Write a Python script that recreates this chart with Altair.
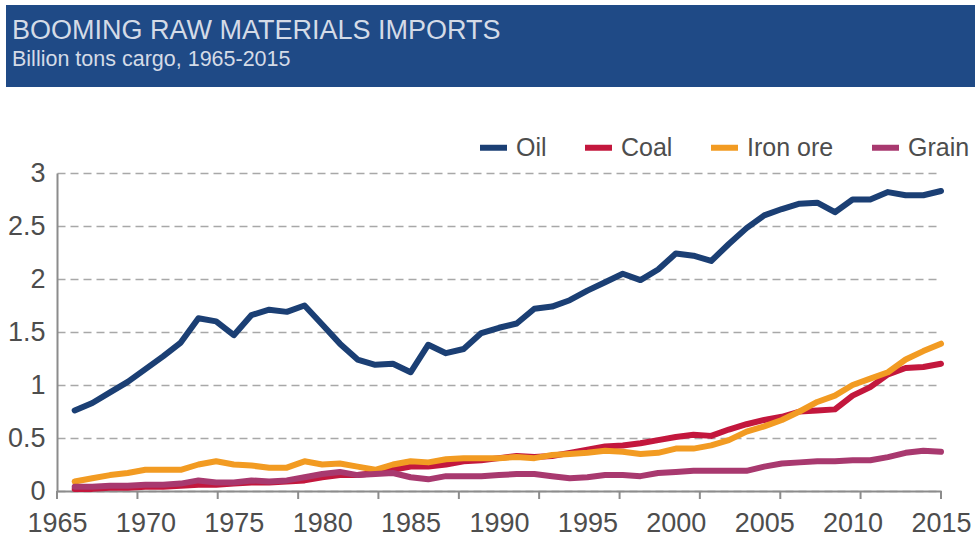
import altair as alt
import pandas as pd

# ---------------- data ----------------
years = list(range(1966, 2016))

oil = [0.76, 0.83, 0.93, 1.03, 1.15, 1.27, 1.40, 1.63, 1.60, 1.47,
       1.66, 1.71, 1.69, 1.75, 1.57, 1.39, 1.24, 1.19, 1.20, 1.12,
       1.38, 1.30, 1.34, 1.49, 1.54, 1.58, 1.72, 1.74, 1.80, 1.89,
       1.97, 2.05, 1.99, 2.09, 2.24, 2.22, 2.17, 2.33, 2.48, 2.60,
       2.66, 2.71, 2.72, 2.63, 2.75, 2.75, 2.82, 2.79, 2.79, 2.83]

coal = [0.02, 0.02, 0.03, 0.03, 0.04, 0.04, 0.05, 0.06, 0.06, 0.07,
        0.08, 0.08, 0.09, 0.10, 0.13, 0.15, 0.15, 0.17, 0.20, 0.23,
        0.23, 0.25, 0.28, 0.29, 0.31, 0.33, 0.32, 0.33, 0.36, 0.39,
        0.42, 0.43, 0.45, 0.48, 0.51, 0.53, 0.52, 0.58, 0.63, 0.67,
        0.70, 0.75, 0.76, 0.77, 0.90, 0.98, 1.10, 1.16, 1.17, 1.20]

iron_ore = [0.09, 0.12, 0.15, 0.17, 0.20, 0.20, 0.20, 0.25, 0.28, 0.25,
            0.24, 0.22, 0.22, 0.28, 0.25, 0.26, 0.23, 0.20, 0.25, 0.28,
            0.27, 0.30, 0.31, 0.31, 0.31, 0.32, 0.31, 0.34, 0.35, 0.36,
            0.38, 0.37, 0.35, 0.36, 0.40, 0.40, 0.43, 0.48, 0.56, 0.61,
            0.67, 0.75, 0.84, 0.90, 1.00, 1.06, 1.12, 1.24, 1.32, 1.39]

grain = [0.04, 0.04, 0.05, 0.05, 0.06, 0.06, 0.07, 0.10, 0.08, 0.08,
         0.10, 0.09, 0.10, 0.13, 0.16, 0.18, 0.15, 0.16, 0.17, 0.13,
         0.11, 0.14, 0.14, 0.14, 0.15, 0.16, 0.16, 0.14, 0.12, 0.13,
         0.15, 0.15, 0.14, 0.17, 0.18, 0.19, 0.19, 0.19, 0.19, 0.23,
         0.26, 0.27, 0.28, 0.28, 0.29, 0.29, 0.32, 0.36, 0.38, 0.37]

series_names = ["Oil", "Coal", "Iron ore", "Grain"]
series_colors = ["#1b3f74", "#c3173d", "#f29b22", "#a8396f"]

x_labels = [1965, 1970, 1975, 1980, 1985, 1990, 1995, 2000, 2005, 2010, 2015]
x_tick_marks = [1965.0, 1969.55, 1974.09, 1978.64, 1983.18, 1987.73,
                1992.27, 1996.82, 2001.36, 2005.91, 2010.45, 2015.0]
y_ticks = [0, 0.5, 1, 1.5, 2, 2.5, 3]

title_text = "BOOMING RAW MATERIALS IMPORTS"
subtitle_text = "Billion tons cargo, 1965-2015"

# ---------------- build tables ----------------
rows = []
for name, vals in zip(series_names, [oil, coal, iron_ore, grain]):
    for yr, v in zip(years, vals):
        rows.append({"year": yr, "value": v, "series": name})
df = pd.DataFrame(rows)

W, H = 884, 318
FONT = "Liberation Sans"
LABEL_COLOR = "#4d4d4d"
AXIS_COLOR = "#8c8c8c"

x_scale = alt.Scale(domain=[1965, 2015], nice=False, zero=False)
y_scale = alt.Scale(domain=[0, 3], nice=False, zero=True)

x_axis = alt.Axis(values=x_labels, format="d", title=None, tickSize=0,
                  labelPadding=19, labelFontSize=27, labelFont=FONT,
                  labelColor=LABEL_COLOR, labelFlush=False, labelOverlap=False,
                  domainColor=AXIS_COLOR, domainWidth=2, grid=False)

y_axis = alt.Axis(values=y_ticks, format="~g", title=None, tickSize=0,
                  labelPadding=12, labelFontSize=27, labelFont=FONT,
                  labelColor=LABEL_COLOR, domainColor=AXIS_COLOR, domainWidth=2,
                  grid=True, gridDash=[8, 5], gridColor="#a8a8a8", gridWidth=1.6)

lines = alt.Chart(df).mark_line(strokeWidth=6, strokeJoin="round", strokeCap="round").encode(
    x=alt.X("year:Q", scale=x_scale, axis=x_axis),
    y=alt.Y("value:Q", scale=y_scale, axis=y_axis),
    color=alt.Color(
        "series:N",
        scale=alt.Scale(domain=series_names, range=series_colors),
        title=None,
        legend=alt.Legend(
            orient="none", legendX=420, legendY=-42, direction="horizontal",
            labelFontSize=25, labelFont=FONT, labelColor=LABEL_COLOR,
            symbolType="stroke", symbolStrokeWidth=6, symbolSize=729,
            labelOffset=6, columnPadding=26, padding=0,
        ),
    ),
)

ticks = alt.Chart(pd.DataFrame({"year": x_tick_marks})).mark_rule(
    color=AXIS_COLOR, strokeWidth=2
).encode(
    x=alt.X("year:Q", scale=x_scale, axis=x_axis),
    y=alt.value(H),
    y2=alt.value(H + 8),
)

header = alt.Chart(pd.DataFrame({"k": [0]})).mark_rect(color="#1f4a86").encode(
    x=alt.value(-51), x2=alt.value(918), y=alt.value(-168), y2=alt.value(-86)
)

title = alt.Chart(pd.DataFrame({"label": [title_text]})).mark_text(
    align="left", baseline="alphabetic", fontSize=27, font=FONT, color="#d4dbe7"
).encode(x=alt.value(-45), y=alt.value(-134), text="label:N")

subtitle = alt.Chart(pd.DataFrame({"label": [subtitle_text]})).mark_text(
    align="left", baseline="alphabetic", fontSize=21.5, font=FONT, color="#d4dbe7"
).encode(x=alt.value(-45), y=alt.value(-107), text="label:N")

chart = alt.layer(header, title, subtitle, ticks, lines).properties(
    width=W, height=H,
    autosize=alt.AutoSizeParams(type="none"),
    padding={"left": 57, "top": 173, "right": 38, "bottom": 47},
    background="white",
).configure_view(strokeWidth=0)

chart.save("out.html", embed_options={"renderer": "svg", "actions": False})
